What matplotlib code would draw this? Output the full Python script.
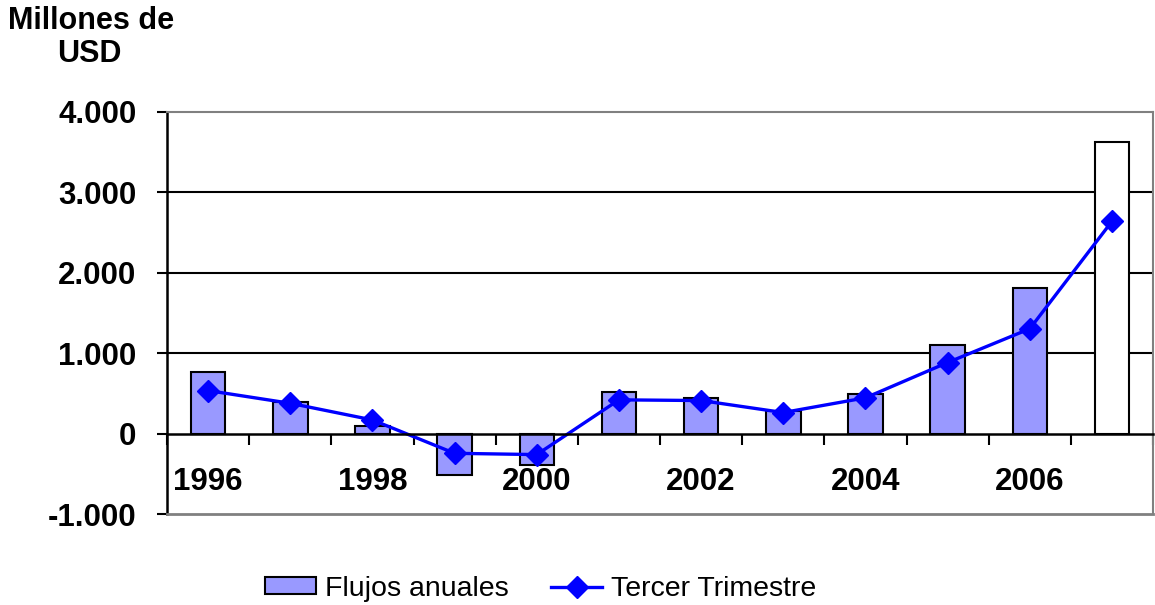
import matplotlib.pyplot as plt
import numpy as np

years = ['1996', '1997', '1998', '1999', '2000', '2001',
         '2002', '2003', '2004', '2005', '2006', '2007']
flujos = [763, 390, 91, -511, -386, 514, 440, 285, 489, 1108, 1806, 3624]
tercer = [535, 377, 170, -245, -261, 420, 411, 262, 445, 884, 1304, 2640]
yticks = [-1000, 0, 1000, 2000, 3000, 4000]

plt.rcParams['font.family'] = ['Liberation Sans', 'DejaVu Sans']

fig = plt.figure(figsize=(11.55, 6.05), dpi=100)
ax = fig.add_axes([0.1446, 0.1504, 0.8537, 0.6645])

x = np.arange(len(years))
colors = ['#9999FF'] * (len(years) - 1) + ['white']
bars = ax.bar(x, flujos, width=0.42, color=colors, edgecolor='black',
              linewidth=1.5, zorder=2, label='Flujos anuales')
line, = ax.plot(x, tercer, color='#0000FF', linewidth=2.4, marker='D',
                markersize=11, zorder=3, label='Tercer Trimestre')

for v in [1000, 2000, 3000]:
    ax.axhline(v, color='black', linewidth=1.5, zorder=1)

ax.set_xlim(-0.5, len(years) - 0.5)
ax.set_ylim(-1000, 4000)
ax.set_yticks(yticks)
ax.set_yticklabels(['{:,}'.format(v).replace(',', '.') for v in yticks],
                   fontsize=22.5, fontweight='bold')
ax.tick_params(axis='y', direction='out', length=7, width=1.5, pad=15)

ax.spines['left'].set_color('black')
ax.spines['left'].set_linewidth(1.8)
ax.spines['bottom'].set_position(('data', 0))
ax.spines['bottom'].set_color('black')
ax.spines['bottom'].set_linewidth(1.8)
ax.spines['bottom'].set_zorder(4)
for s in ['top', 'right']:
    ax.spines[s].set_color('#808080')
    ax.spines[s].set_linewidth(1.5)
ax.axhline(-1000, color='#808080', linewidth=2, zorder=5, clip_on=False)

ax.set_xticks(np.arange(-0.5, len(years), 1.0))
ax.set_xticklabels([])
ax.tick_params(axis='x', direction='out', length=8, width=1.5)

for i in range(0, len(years), 2):
    ax.text(x[i], -598, years[i], ha='center', va='center',
            fontsize=22.5, fontweight='bold')

fig.text(0.079, 0.966, 'Millones de', ha='center', va='center',
         fontsize=22, fontweight='bold')
fig.text(0.077, 0.911, 'USD', ha='center', va='center',
         fontsize=22, fontweight='bold')

fig.legend([bars, line], ['Flujos anuales', 'Tercer Trimestre'],
           loc='center', bbox_to_anchor=(0.468, 0.027), ncol=2,
           frameon=False, fontsize=20.5, handlelength=1.8, handleheight=0.5,
           columnspacing=1.5, handletextpad=0.3)

fig.savefig('out.png', dpi=100)
